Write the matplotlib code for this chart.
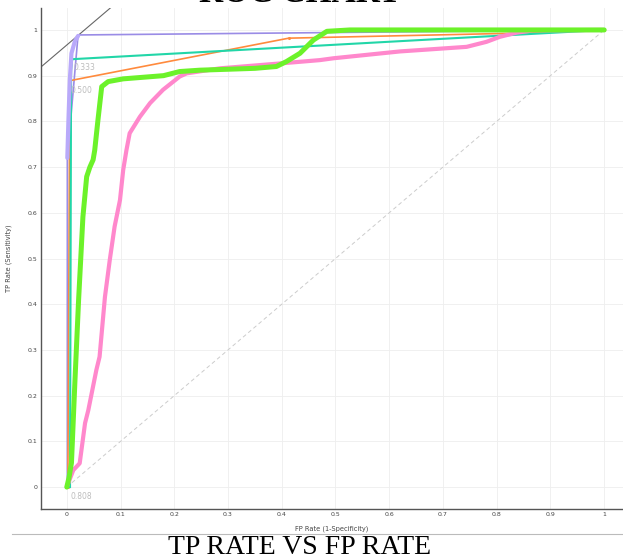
import numpy as np
import matplotlib
matplotlib.use("Agg")
from matplotlib import pyplot as plt

# ROC curves (FP rate, TP rate)

green_fpr = [0, 0.004, 0.0087, 0.015, 0.022, 0.030, 0.037, 0.043, 0.049, 0.052, 0.058, 0.065, 0.077,
             0.105, 0.18, 0.21, 0.248, 0.30, 0.35, 0.39, 0.409, 0.434, 0.459, 0.484, 0.527, 0.7, 1.0]
green_tpr = [0, 0.02, 0.053, 0.228, 0.41, 0.591, 0.679, 0.70, 0.716, 0.737, 0.803, 0.876, 0.887,
             0.893, 0.90, 0.909, 0.912, 0.914, 0.916, 0.92, 0.931, 0.949, 0.978, 0.997, 1.0, 1.0, 1.0]

pink_fpr = [0, 0.012, 0.024, 0.034, 0.04, 0.055, 0.061, 0.071, 0.08, 0.089, 0.099, 0.105, 0.111,
            0.117, 0.136, 0.155, 0.179, 0.21, 0.223, 0.285, 0.40, 0.471, 0.496, 0.62, 0.744, 0.781,
            0.806, 0.837, 0.868, 1.0]
pink_tpr = [0, 0.037, 0.052, 0.14, 0.168, 0.256, 0.285, 0.416, 0.497, 0.57, 0.628, 0.694, 0.737,
            0.774, 0.81, 0.84, 0.869, 0.898, 0.905, 0.916, 0.927, 0.934, 0.938, 0.953, 0.963, 0.974,
            0.985, 0.994, 0.999, 1.0]

lav_fpr = [0.001, 0.003, 0.0056, 0.0087, 0.015, 0.021]
lav_tpr = [0.72, 0.80, 0.89, 0.949, 0.975, 0.987]

purple_fpr = [0.001, 0.001, 0.021, 1.0]
purple_tpr = [0.0, 0.72, 0.989, 1.0]

orange_fpr = [0.002, 0.0056, 0.413, 0.84, 1.0]
orange_tpr = [0.0, 0.889, 0.982, 0.993, 1.0]

teal_fpr = [0.006, 0.008, 0.01, 1.0]
teal_tpr = [0.0, 0.912, 0.936, 1.0]

ticks = [0, 0.1, 0.2, 0.3, 0.4, 0.5, 0.6, 0.7, 0.8, 0.9, 1]
tick_labels = ["0", "0.1", "0.2", "0.3", "0.4", "0.5", "0.6", "0.7", "0.8", "0.9", "1"]

thresh_labels = ["0.333", "0.500", "0.808"]
thresh_pos = [(0.012, 0.918), (0.006, 0.868), (0.006, -0.02)]

fig = plt.figure(figsize=(6.23, 5.59), dpi=100)
ax = fig.add_axes([0.0658, 0.0894, 0.9342, 0.8963])

# random guess line and tangent line
ax.plot([0, 1], [0, 1], color="#cccccc", lw=0.7, ls=(0, (4, 3)), zorder=1)
tx = np.array([-0.06, 0.1])
ax.plot(tx, tx + 0.967, color="#666666", lw=0.8, zorder=2)

ax.plot(purple_fpr, purple_tpr, color="#9a8ce6", lw=1.2, zorder=3)
ax.plot(orange_fpr, orange_tpr, color="#ff8a3d", lw=1.2, marker="o", markersize=1.2, zorder=3)
ax.plot(teal_fpr, teal_tpr, color="#22d6a8", lw=1.5, zorder=3)
ax.plot(lav_fpr, lav_tpr, color="#b9a9fa", lw=3, solid_capstyle="round", zorder=4)
ax.plot(pink_fpr, pink_tpr, color="#ff88cc", lw=3, solid_capstyle="round", zorder=5)
ax.plot(green_fpr, green_tpr, color="#6cf22a", lw=3.6, solid_capstyle="round", zorder=6)

for lab, (x, y) in zip(thresh_labels, thresh_pos):
    ax.text(x, y, lab, color="#bdbdbd", fontsize=5.5, ha="left", va="center")

ax.set_xlim(-0.048, 1.035)
ax.set_ylim(-0.048, 1.048)
ax.set_xticks(ticks)
ax.set_xticklabels(tick_labels)
ax.set_yticks(ticks)
ax.set_yticklabels(tick_labels)
ax.tick_params(length=0, labelsize=4.5, colors="#444444", pad=2.5)
ax.grid(True, color="#eeeeee", lw=0.6)
ax.set_axisbelow(True)
for s in ["top", "right"]:
    ax.spines[s].set_visible(False)
for s in ["left", "bottom"]:
    ax.spines[s].set_color("#555555")
    ax.spines[s].set_linewidth(1.0)

ax.set_xlabel("FP Rate (1-Specificity)", fontsize=4.8, color="#444444", labelpad=5.5)
ax.set_ylabel("TP Rate (Sensitivity)", fontsize=4.8, color="#444444", labelpad=11)

# captions around the chart (top one is cut off by the edge, as in the picture)
fig.text(0.482, 1 - 1.7 / 559, "ROC CHART", fontsize=24, fontweight="bold",
         family="Liberation Serif", ha="center", va="baseline")
fig.add_artist(plt.Line2D([12 / 623, 1], [1 - 533.5 / 559] * 2, color="#bbbbbb", lw=0.8))
fig.text(0.4815, 1 - 548 / 559, "TP RATE VS FP RATE", fontsize=20,
         family="Liberation Serif", ha="center", va="center")

fig.savefig("out.png", dpi=100)
